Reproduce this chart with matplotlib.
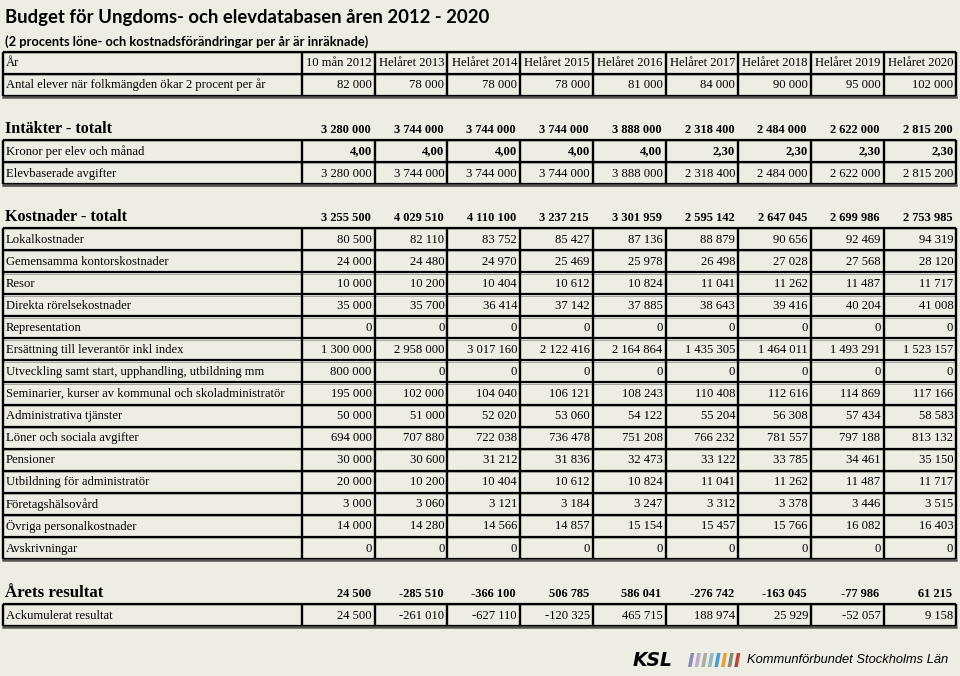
import matplotlib
matplotlib.use('Agg')
from matplotlib import pyplot as plt
from matplotlib.patches import Polygon

# data
years = ['10 mån 2012', 'Helåret 2013', 'Helåret 2014', 'Helåret 2015', 'Helåret 2016',
         'Helåret 2017', 'Helåret 2018', 'Helåret 2019', 'Helåret 2020']
elever = [82000, 78000, 78000, 78000, 81000, 84000, 90000, 95000, 102000]

intakter_totalt = [3280000, 3744000, 3744000, 3744000, 3888000, 2318400, 2484000, 2622000, 2815200]
kronor_per_elev = [4.00, 4.00, 4.00, 4.00, 4.00, 2.30, 2.30, 2.30, 2.30]
elevbaserade = [3280000, 3744000, 3744000, 3744000, 3888000, 2318400, 2484000, 2622000, 2815200]

kostnader_totalt = [3255500, 4029510, 4110100, 3237215, 3301959, 2595142, 2647045, 2699986, 2753985]
kostnad_labels = ['Lokalkostnader', 'Gemensamma kontorskostnader', 'Resor', 'Direkta rörelsekostnader',
                  'Representation', 'Ersättning till leverantör inkl index',
                  'Utveckling samt start, upphandling, utbildning mm',
                  'Seminarier, kurser av kommunal och skoladministratör', 'Administrativa tjänster',
                  'Löner och sociala avgifter', 'Pensioner', 'Utbildning för administratör',
                  'Företagshälsovård', 'Övriga personalkostnader', 'Avskrivningar']
lokal = [80500, 82110, 83752, 85427, 87136, 88879, 90656, 92469, 94319]
gemensamma = [24000, 24480, 24970, 25469, 25978, 26498, 27028, 27568, 28120]
resor = [10000, 10200, 10404, 10612, 10824, 11041, 11262, 11487, 11717]
direkta = [35000, 35700, 36414, 37142, 37885, 38643, 39416, 40204, 41008]
representation = [0, 0, 0, 0, 0, 0, 0, 0, 0]
ersattning = [1300000, 2958000, 3017160, 2122416, 2164864, 1435305, 1464011, 1493291, 1523157]
utveckling = [800000, 0, 0, 0, 0, 0, 0, 0, 0]
seminarier = [195000, 102000, 104040, 106121, 108243, 110408, 112616, 114869, 117166]
administrativa = [50000, 51000, 52020, 53060, 54122, 55204, 56308, 57434, 58583]
loner = [694000, 707880, 722038, 736478, 751208, 766232, 781557, 797188, 813132]
pensioner = [30000, 30600, 31212, 31836, 32473, 33122, 33785, 34461, 35150]
utbildning = [20000, 10200, 10404, 10612, 10824, 11041, 11262, 11487, 11717]
foretagshalsovard = [3000, 3060, 3121, 3184, 3247, 3312, 3378, 3446, 3515]
ovriga = [14000, 14280, 14566, 14857, 15154, 15457, 15766, 16082, 16403]
avskrivningar = [0, 0, 0, 0, 0, 0, 0, 0, 0]
kostnad_values = [lokal, gemensamma, resor, direkta, representation, ersattning, utveckling,
                  seminarier, administrativa, loner, pensioner, utbildning, foretagshalsovard,
                  ovriga, avskrivningar]

arets_resultat = [24500, -285510, -366100, 506785, 586041, -276742, -163045, -77986, 61215]
ackumulerat = [24500, -261010, -627110, -120325, 465715, 188974, 25929, -52057, 9158]

BG = '#eeede4'
SERIF = 'Liberation Serif'
X0, X1 = 3, 302
COLW = 72.7
ROWH = 22.07
edges = [X1 + COLW * i for i in range(len(years) + 1)]


def fmt(v):
    if isinstance(v, float):
        return f'{v:.2f}'.replace('.', ',')
    return f'{v:,}'.replace(',', ' ')


def block(ax, top, labels, rows, bold_rows=()):
    n = len(labels)
    bottom = top + n * ROWH
    # horizontal lines
    for i in range(n + 1):
        y = top + i * ROWH
        ax.plot([X0, edges[-1]], [y, y], color='black', lw=1.6, solid_capstyle='butt')
        ax.plot([X0, edges[-1]], [y + 1.4, y + 1.4], color='#9a9a94', lw=0.6)
    ax.plot([X0, edges[-1]], [bottom + 1.3, bottom + 1.3], color='#555550', lw=1.8)
    # vertical lines
    for x in [X0] + edges:
        ax.plot([x, x], [top, bottom], color='black', lw=1.7, solid_capstyle='butt')
    for i, (lab, vals) in enumerate(zip(labels, rows)):
        yc = top + (i + 0.5) * ROWH + 0.5
        ax.text(X0 + 3, yc, lab, ha='left', va='center', fontsize=9.1, family=SERIF)
        for j, v in enumerate(vals):
            ax.text(edges[j + 1] - 3, yc, v if isinstance(v, str) else fmt(v),
                    ha='right', va='center', fontsize=9.1, family=SERIF,
                    weight='bold' if i in bold_rows else 'normal')


def section(ax, y, label, vals, size=11.6):
    ax.text(X0 + 2, y, label, ha='left', va='center', fontsize=size, family=SERIF, weight='bold')
    for j, v in enumerate(vals):
        ax.text(edges[j + 1] - 4, y + 1, fmt(v), ha='right', va='center', fontsize=8.9,
                family=SERIF, weight='bold')


fig = plt.figure(figsize=(9.6, 6.76), dpi=100, facecolor=BG)
ax = fig.add_axes([0, 0, 1, 1])
ax.set_xlim(0, 960)
ax.set_ylim(676, 0)
ax.axis('off')
ax.set_facecolor(BG)

ax.text(5, 17, 'Budget för Ungdoms- och elevdatabasen åren 2012 - 2020', ha='left', va='center',
        fontsize=13.3, family='Lato', weight='bold')
ax.text(5, 42, '(2 procents löne- och kostnadsförändringar per år är inräknade)', ha='left',
        va='center', fontsize=9.3, family='Lato', weight='bold')

block(ax, 51.5, ['År', 'Antal elever när folkmängden ökar 2 procent per år'], [years, elever])

section(ax, 129, 'Intäkter - totalt', intakter_totalt)
block(ax, 140, ['Kronor per elev och månad', 'Elevbaserade avgifter'],
      [kronor_per_elev, elevbaserade], bold_rows=(0,))

section(ax, 217, 'Kostnader - totalt', kostnader_totalt)
block(ax, 228, kostnad_labels, kostnad_values)

section(ax, 593, 'Årets resultat', arets_resultat, size=12.2)
block(ax, 604, ['Ackumulerat resultat'], [ackumulerat])

# KSL logo
ax.text(633, 660, 'KSL', ha='left', va='center', fontsize=13.5, family='DejaVu Sans',
        weight='heavy', style='italic')
bar_colors = ['#8d8cb3', '#b9abd4', '#a8b09a', '#93b7c6', '#4d9cc6', '#e2a13b', '#8a8a78', '#b5493a']
for k, c in enumerate(bar_colors):
    bx = 688 + k * 6.6
    ax.add_patch(Polygon([(bx, 667), (bx + 3.6, 667), (bx + 6.2, 653), (bx + 2.6, 653)],
                         closed=True, color=c, lw=0))
ax.text(747, 660, 'Kommunförbundet Stockholms Län', ha='left', va='center', fontsize=9.3,
        family='Liberation Sans', style='italic')

fig.savefig('out.png', dpi=100, facecolor=BG)
